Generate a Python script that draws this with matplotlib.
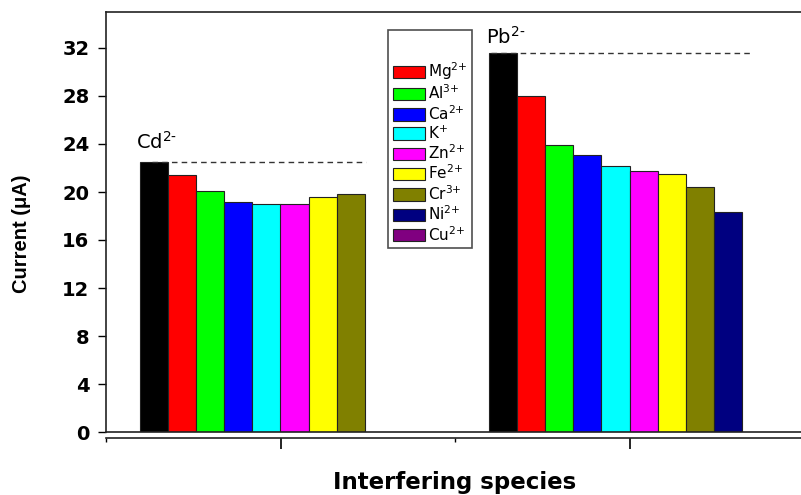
import numpy as np
import matplotlib
matplotlib.use("Agg")
import matplotlib.pyplot as plt
from matplotlib.patches import Patch
from matplotlib.ticker import FixedLocator, NullFormatter

plt.rcParams['font.family'] = ['DejaVu Sans']
plt.rcParams['mathtext.fontset'] = 'dejavusans'

groups = [r"Cd$^{\text{2-}}$", r"Pb$^{\text{2-}}$"]
species = [r"Mg$^{\text{2+}}$", r"Al$^{\text{3+}}$", r"Ca$^{\text{2+}}$", r"K$^{\text{+}}$",
           r"Zn$^{\text{2+}}$", r"Fe$^{\text{2+}}$", r"Cr$^{\text{3+}}$", r"Ni$^{\text{2+}}$",
           r"Cu$^{\text{2+}}$"]
colors = ["#000000", "#FF0000", "#00FF00", "#0000FF", "#00FFFF", "#FF00FF",
          "#FFFF00", "#808000", "#000080", "#800080"]
# first value = analyte alone (black), then with interferents
cd_values = [22.5, 21.4, 20.05, 19.15, 19.0, 19.0, 19.6, 19.8, np.nan, np.nan]
pb_values = [31.6, 28.0, 23.95, 23.05, 22.15, 21.75, 21.5, 20.4, 18.3, np.nan]
yticks = [0, 4, 8, 12, 16, 20, 24, 28, 32]

fig = plt.figure(figsize=(8.01, 4.95), dpi=100)
ax = fig.add_axes([106/801, 63/495, 698/801, 420/495])

w = 0.0805
centers = [1, 2]
for gi, vals in enumerate([cd_values, pb_values]):
    n = len(vals)
    for i, v in enumerate(vals):
        if np.isnan(v):
            continue
        x = centers[gi] + (i - (n - 1) / 2) * w
        ax.bar(x, v, width=w, color=colors[i], edgecolor="#222222", linewidth=0.8,
               zorder=2)

# reference dashed lines at the analyte level
ax.plot([0.633, 1.246], [cd_values[0]] * 2, ls=(0, (4, 3)), color="#333333", lw=1.0, zorder=3)
ax.plot([1.604, 2.352], [pb_values[0]] * 2, ls=(0, (4, 3)), color="#333333", lw=1.0, zorder=3)

ax.text(0.585, cd_values[0] + 1.1, groups[0], fontsize=14, ha="left", va="baseline")
ax.text(1.59, pb_values[0] + 0.75, groups[1], fontsize=14, ha="left", va="baseline")

ax.set_xlim(0.5, 2.5)
ax.set_ylim(0, 35)
ax.set_yticks(yticks)
ax.set_yticklabels([str(t) for t in yticks], fontsize=14, fontweight="bold")
ax.tick_params(axis="y", direction="out", length=6, width=1, pad=6)

ax.spines["right"].set_visible(False)
for s in ["left", "top", "bottom"]:
    ax.spines[s].set_linewidth(1.2)
    ax.spines[s].set_color("#222222")
ax.spines["bottom"].set_position(("outward", 4))
ax.axhline(0, color="#222222", lw=1.2, clip_on=False, zorder=4)

ax.xaxis.set_major_locator(FixedLocator([1, 2]))
ax.xaxis.set_minor_locator(FixedLocator([0.5, 1.5, 2.5]))
ax.xaxis.set_major_formatter(NullFormatter())
ax.tick_params(axis="x", which="major", direction="out", length=8, width=1.2)
ax.tick_params(axis="x", which="minor", direction="out", length=3, width=1)

ax.set_ylabel("Current (μA)", fontsize=14.5, fontweight="bold", family="Liberation Sans")
ax.yaxis.set_label_coords((22 - 106) / 698, (432 - 234) / 420)
ax.yaxis.label.set_va("center")
ax.set_xlabel("Interfering species", fontsize=16.5, fontweight="bold")
ax.xaxis.set_label_coords(0.5, (432 - 482) / 420)
ax.xaxis.label.set_va("center")

handles = [Patch(facecolor=colors[i + 1], edgecolor="#222222", linewidth=0.8)
           for i in range(len(species))]
leg = ax.legend(handles, species, loc="upper left", bbox_to_anchor=(388/801, 1 - 30/495),
                bbox_transform=fig.transFigure,
                fontsize=11, frameon=True, fancybox=False, edgecolor="#222222",
                handlelength=2.1, handleheight=0.85, handletextpad=0.2,
                labelspacing=0.11, borderpad=0.3, borderaxespad=0,
                title=" ", title_fontsize=18)
leg.get_frame().set_linewidth(1.2)
fig.savefig("out.png", dpi=100)
